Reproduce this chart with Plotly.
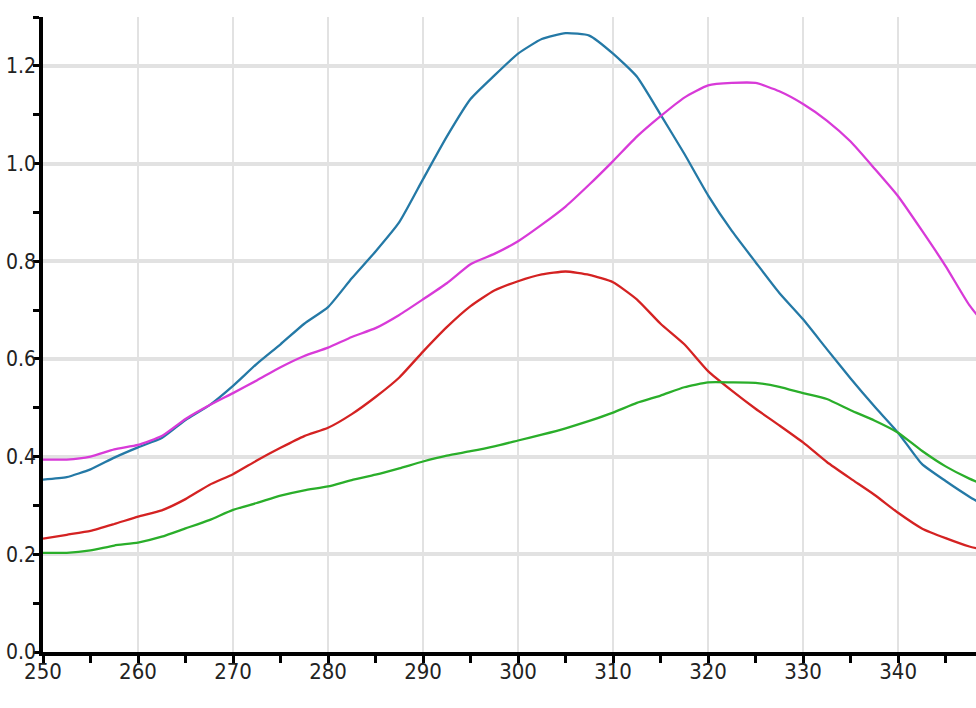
import plotly.graph_objects as go

wavelength = [250 + 2.5 * i for i in range(41)]

blue = [0.353, 0.358, 0.374, 0.398, 0.419, 0.438, 0.475, 0.505, 0.545, 0.590,
        0.630, 0.672, 0.706, 0.765, 0.820, 0.880, 0.968, 1.055, 1.132, 1.180,
        1.225, 1.255, 1.267, 1.262, 1.225, 1.178, 1.100, 1.020, 0.935, 0.862,
        0.798, 0.735, 0.681, 0.620, 0.560, 0.503, 0.449, 0.385, 0.350, 0.318, 0.290]

magenta = [0.394, 0.394, 0.400, 0.415, 0.424, 0.442, 0.477, 0.505, 0.530, 0.556,
           0.583, 0.606, 0.623, 0.645, 0.663, 0.690, 0.722, 0.755, 0.794, 0.815,
           0.841, 0.875, 0.912, 0.957, 1.005, 1.055, 1.097, 1.135, 1.160, 1.165,
           1.165, 1.148, 1.122, 1.088, 1.045, 0.990, 0.933, 0.863, 0.790, 0.710, 0.650]

red = [0.232, 0.240, 0.248, 0.262, 0.277, 0.290, 0.313, 0.342, 0.364, 0.392,
       0.418, 0.442, 0.459, 0.487, 0.522, 0.562, 0.615, 0.665, 0.708, 0.740,
       0.759, 0.773, 0.779, 0.772, 0.757, 0.722, 0.672, 0.630, 0.575, 0.535,
       0.498, 0.464, 0.429, 0.389, 0.355, 0.322, 0.285, 0.253, 0.233, 0.216, 0.205]

green = [0.203, 0.203, 0.208, 0.218, 0.224, 0.236, 0.253, 0.270, 0.291, 0.305,
         0.320, 0.331, 0.339, 0.352, 0.363, 0.376, 0.390, 0.402, 0.411, 0.421,
         0.433, 0.445, 0.458, 0.473, 0.490, 0.510, 0.525, 0.542, 0.552, 0.552,
         0.551, 0.543, 0.530, 0.518, 0.495, 0.474, 0.449, 0.412, 0.380, 0.355, 0.335]

series = [
    ("blue", blue, "#2479a6"),
    ("magenta", magenta, "#d83ad8"),
    ("red", red, "#d42222"),
    ("green", green, "#2aae2a"),
]

X_RANGE = [250, 348.2]
Y_RANGE = [0, 1.3]
FONT = "DejaVu Sans Condensed, Liberation Sans Narrow, sans-serif"

fig = go.Figure()
for name, vals, col in series:
    fig.add_trace(go.Scatter(x=wavelength, y=vals, mode="lines", name=name,
                             line=dict(color=col, width=2.3, shape="spline", smoothing=0.5),
                             cliponaxis=True, showlegend=False, hoverinfo="skip"))

fig.update_layout(
    width=976, height=708,
    margin=dict(l=43, r=0, t=17, b=56, autoexpand=False),
    paper_bgcolor="white", plot_bgcolor="white",
    font=dict(family=FONT, size=22, color="#222"),
    xaxis=dict(range=X_RANGE, tick0=250, dtick=10, showgrid=True, automargin=False,
               gridcolor="#e2e2e2", gridwidth=2, zeroline=False,
               showline=True, linecolor="black", linewidth=3.5,
               ticks="outside", ticklen=7, tickwidth=2.5, tickcolor="black",
               ticklabelstandoff=-10,
               minor=dict(dtick=5, tick0=250, ticks="outside", ticklen=7,
                          tickwidth=2.5, tickcolor="black", showgrid=False),
               fixedrange=True),
    yaxis=dict(range=Y_RANGE, tick0=0, dtick=0.2, tickformat=".1f", showgrid=True,
               automargin=False, tickfont=dict(size=21),
               gridcolor="#e2e2e2", gridwidth=3.5, zeroline=False,
               showline=True, linecolor="black", linewidth=3.5,
               ticks="outside", ticklen=6, tickwidth=3, tickcolor="black",
               ticklabelstandoff=-7,
               minor=dict(dtick=0.1, tick0=0, ticks="outside", ticklen=6,
                          tickwidth=3, tickcolor="black", showgrid=False),
               fixedrange=True),
    xaxis2=dict(range=X_RANGE, overlaying="x", anchor="y", side="bottom",
                tick0=250, dtick=5, ticks="inside", ticklen=6, tickwidth=2.5,
                tickcolor="black", showticklabels=False, showgrid=False,
                zeroline=False, showline=False, automargin=False),
    yaxis2=dict(range=Y_RANGE, overlaying="y", anchor="x", side="left",
                tick0=0, dtick=0.1, ticks="inside", ticklen=5, tickwidth=3,
                tickcolor="black", showticklabels=False, showgrid=False,
                zeroline=False, showline=False, automargin=False),
)

fig.write_html("out.html", config={"displayModeBar": False},
               post_script="document.body.style.margin='0';document.body.style.overflow='hidden';")
